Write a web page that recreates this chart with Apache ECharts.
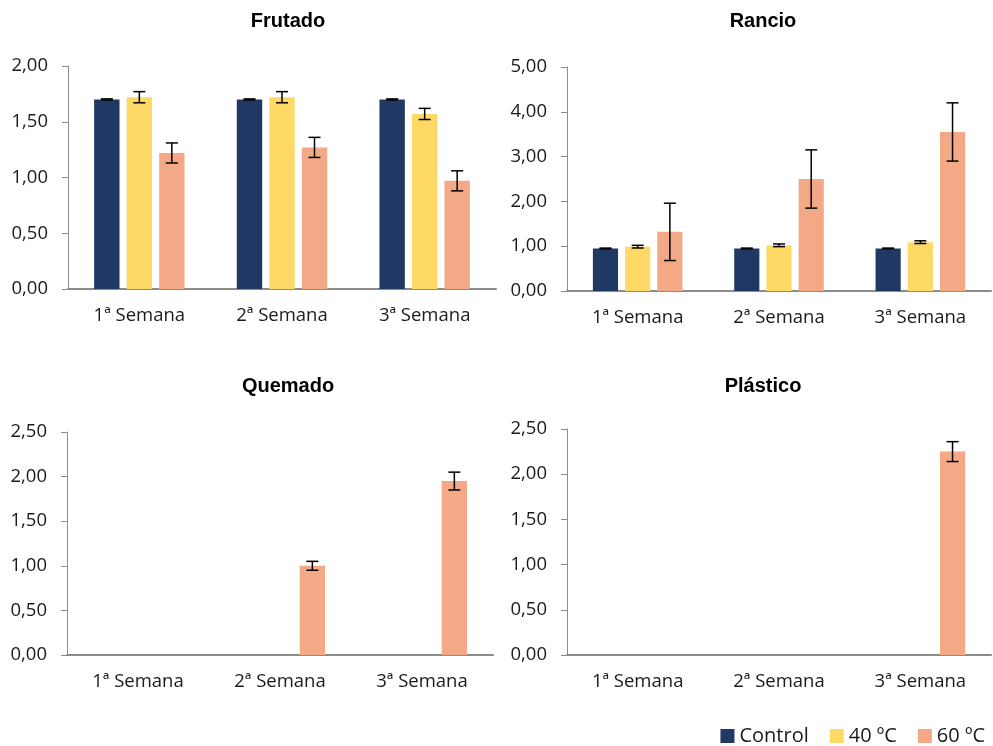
<!DOCTYPE html>
<html>
<head>
<meta charset="utf-8">
<script src="https://cdn.jsdelivr.net/npm/echarts@6/dist/echarts.min.js"></script>
<style>
  html, body { margin: 0; padding: 0; background: #fff; }
  #chart { width: 993px; height: 746px; }
</style>
</head>
<body>
<div id="chart"></div>
<script>
// Categories and series
const categories = ['1ª Semana', '2ª Semana', '3ª Semana'];
const seriesNames = ['Control', '40 ºC', '60 ºC'];
const panelTitles = ['Frutado', 'Rancio', 'Quemado', 'Plástico'];

// Frutado (mean and error)
const frutadoControl = [1.70, 1.70, 1.70];
const frutadoControlErr = [0.005, 0.005, 0.005];
const frutado40 = [1.72, 1.72, 1.57];
const frutado40Err = [0.05, 0.05, 0.05];
const frutado60 = [1.22, 1.27, 0.97];
const frutado60Err = [0.09, 0.09, 0.09];

// Rancio
const rancioControl = [0.95, 0.95, 0.95];
const rancioControlErr = [0.008, 0.008, 0.008];
const rancio40 = [0.99, 1.02, 1.09];
const rancio40Err = [0.03, 0.03, 0.03];
const rancio60 = [1.32, 2.50, 3.55];
const rancio60Err = [0.64, 0.65, 0.65];

// Quemado
const quemadoControl = [0, 0, 0];
const quemadoControlErr = [0, 0, 0];
const quemado40 = [0, 0, 0];
const quemado40Err = [0, 0, 0];
const quemado60 = [0, 1.00, 1.95];
const quemado60Err = [0, 0.05, 0.10];

// Plástico
const plasticoControl = [0, 0, 0];
const plasticoControlErr = [0, 0, 0];
const plastico40 = [0, 0, 0];
const plastico40Err = [0, 0, 0];
const plastico60 = [0, 0, 2.25];
const plastico60Err = [0, 0, 0.11];

// Axis ranges
const yMax = [2.0, 5.0, 2.5, 2.5];
const yStep = [0.5, 1.0, 0.5, 0.5];

const panels = [
  [[frutadoControl, frutadoControlErr], [frutado40, frutado40Err], [frutado60, frutado60Err]],
  [[rancioControl, rancioControlErr], [rancio40, rancio40Err], [rancio60, rancio60Err]],
  [[quemadoControl, quemadoControlErr], [quemado40, quemado40Err], [quemado60, quemado60Err]],
  [[plasticoControl, plasticoControlErr], [plastico40, plastico40Err], [plastico60, plastico60Err]]
];

const colors = ['#203864', '#FFD966', '#F3A886'];
const BAR_RATIO = 0.178;   // bar width as a share of the category band
const GAP_RATIO = 0.28;    // gap between bars as a share of bar width

const grids = [
  { left: 68, width: 428, top: 66, height: 223 },
  { left: 567, width: 424, top: 67, height: 224 },
  { left: 67, width: 426, top: 432, height: 223 },
  { left: 567, width: 424, top: 429, height: 226 }
];

const titleCenters = [[283, 6], [758, 6], [283, 371], [758, 371]];

const axisColor = '#8C8C8C';
const tickFont = 'Open Sans';
const tickSize = 18.5;

const xAxes = grids.map((g, i) => ({
  type: 'category',
  gridIndex: i,
  data: categories,
  axisLine: { show: true, lineStyle: { color: axisColor, width: 2 } },
  axisTick: { show: false },
  axisLabel: { color: '#1a1a1a', fontFamily: tickFont, fontSize: tickSize, margin: 17 }
}));

const yAxes = grids.map((g, i) => ({
  type: 'value',
  gridIndex: i,
  min: 0,
  max: yMax[i],
  interval: yStep[i],
  axisLine: { show: true, lineStyle: { color: axisColor, width: 1 } },
  axisTick: { show: true, length: 6, lineStyle: { color: axisColor } },
  splitLine: { show: false },
  axisLabel: {
    color: '#1a1a1a', fontFamily: tickFont, fontSize: tickSize, margin: 20,
    formatter: v => v.toFixed(2).replace('.', ',')
  }
}));

function errorRenderer(seriesPos) {
  return function (params, api) {
    const cat = api.value(0);
    const v = api.value(1);
    const e = api.value(2);
    if (!v || !e) return null;
    const band = api.size([1, 0])[0];
    const bw = band * BAR_RATIO;
    const off = (seriesPos - 1) * bw * (1 + GAP_RATIO);
    const hi = api.coord([cat, v + e]);
    const lo = api.coord([cat, v - e]);
    const x = hi[0] + off;
    const cap = 6;
    const style = { stroke: '#000', lineWidth: 1.5 };
    return {
      type: 'group',
      children: [
        { type: 'line', shape: { x1: x, y1: hi[1], x2: x, y2: lo[1] }, style },
        { type: 'line', shape: { x1: x - cap, y1: hi[1], x2: x + cap, y2: hi[1] }, style },
        { type: 'line', shape: { x1: x - cap, y1: lo[1], x2: x + cap, y2: lo[1] }, style }
      ]
    };
  };
}

const series = [];
panels.forEach((panel, gi) => {
  panel.forEach(([vals, errs], si) => {
    series.push({
      type: 'bar',
      name: seriesNames[si],
      xAxisIndex: gi,
      yAxisIndex: gi,
      data: vals,
      barWidth: (BAR_RATIO * 100) + '%',
      barGap: (GAP_RATIO * 100) + '%',
      itemStyle: { color: colors[si] },
      z: 2
    });
  });
  panel.forEach(([vals, errs], si) => {
    series.push({
      type: 'custom',
      xAxisIndex: gi,
      yAxisIndex: gi,
      renderItem: errorRenderer(si),
      data: vals.map((v, k) => [k, v, errs[k]]),
      z: 5,
      silent: true
    });
  });
});

const chart = echarts.init(document.getElementById('chart'), null, { renderer: 'canvas' });
chart.setOption({
  animation: false,
  backgroundColor: '#ffffff',
  title: panelTitles.map((t, i) => ({
    text: t,
    left: titleCenters[i][0],
    top: titleCenters[i][1],
    textAlign: 'center',
    textStyle: { fontFamily: 'Liberation Sans', fontWeight: 'bold', fontSize: 20, color: '#000' }
  })),
  legend: {
    data: seriesNames,
    right: 3,
    top: 721,
    icon: 'rect',
    itemWidth: 14,
    itemHeight: 14,
    itemGap: 21,
    textStyle: { fontFamily: tickFont, fontSize: 20, color: '#1a1a1a' }
  },
  grid: grids,
  xAxis: xAxes,
  yAxis: yAxes,
  series: series
});
</script>
</body>
</html>
